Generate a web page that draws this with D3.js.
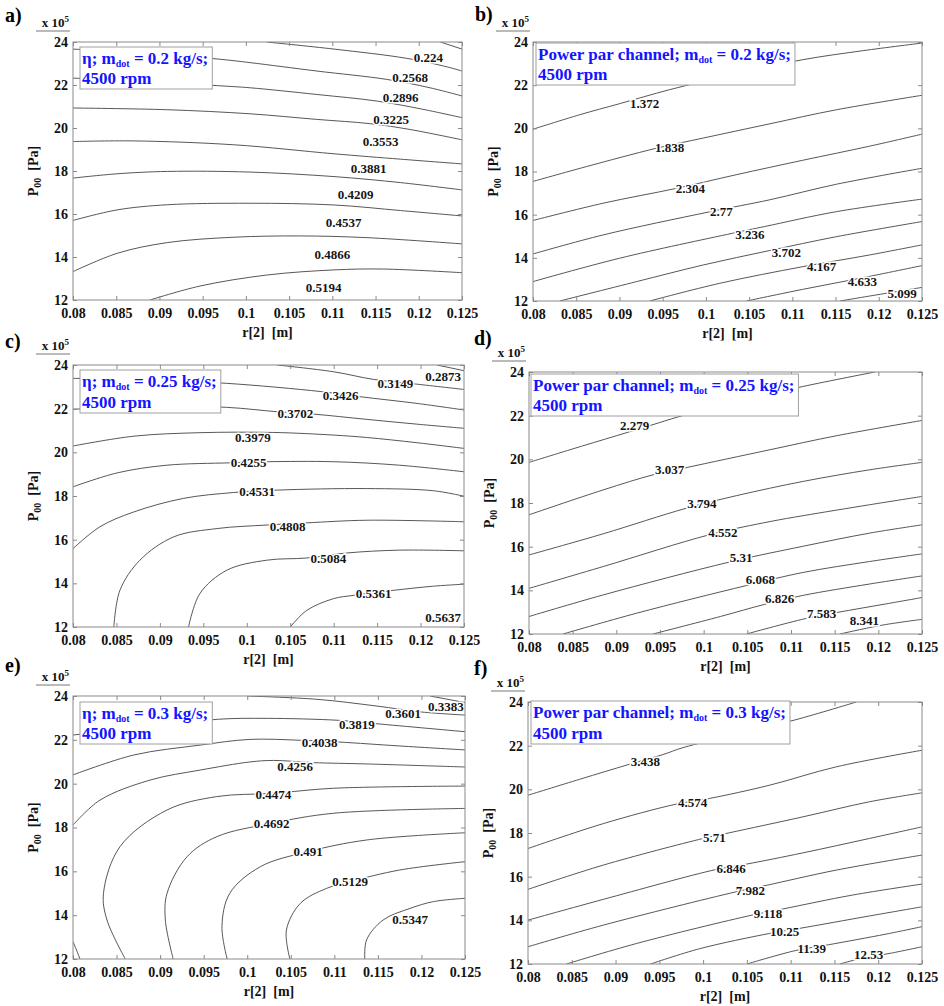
<!DOCTYPE html>
<html><head><meta charset="utf-8">
<script src="https://cdn.jsdelivr.net/npm/d3@7"></script>
<style>
body{margin:0;background:#fff}
svg text{font-family:'Liberation Serif','DejaVu Serif','Noto Serif',serif;}
</style>
</head><body>
<svg id="chart" width="944" height="1006"></svg>
<script>
// ---------- data ----------
const xTicks=[0.08,0.085,0.09,0.095,0.1,0.105,0.11,0.115,0.12,0.125];
const xTickLabels=['0.08','0.085','0.09','0.095','0.1','0.105','0.11','0.115','0.12','0.125'];
const yTicks=[12,14,16,18,20,22,24];
const yTickLabels=['12','14','16','18','20','22','24'];
const panelLetters=['a)','b)','c)','d)','e)','f)'];
const quantities=['η','Power par channel','η','Power par channel','η','Power par channel'];
const massFlows=['0.2','0.2','0.25','0.25','0.3','0.3'];
const speedText='4500 rpm';

// panel a: efficiency, mdot 0.2
const levelsA=['0.224','0.2568','0.2896','0.3225','0.3553','0.3881','0.4209','0.4537','0.4866','0.5194'];
const labelPosA=[[0.1211,23.27],[0.1190,22.37],[0.1179,21.44],[0.1168,20.40],[0.1156,19.37],[0.1142,18.10],[0.1127,16.89],[0.1113,15.60],[0.1100,14.13],[0.1090,12.59]];
const linesA=[
 [[0.1225,24],[0.125,23.67]],
 [[0.1024,24],[0.1102,23.67],[0.1186,23.24],[0.1233,22.84],[0.125,22.65]],
 [[0.08,23.67],[0.0882,23.49],[0.0967,23.21],[0.1005,23.04],[0.1082,22.65],[0.1163,22.26],[0.1213,21.87],[0.125,21.49]],
 [[0.08,22.32],[0.0882,22.17],[0.0967,21.97],[0.1005,21.87],[0.1082,21.56],[0.1152,21.25],[0.1206,20.86],[0.125,20.48]],
 [[0.08,20.93],[0.0909,20.85],[0.1005,20.66],[0.1082,20.40],[0.1144,20.20],[0.1190,19.93],[0.125,19.45]],
 [[0.08,19.37],[0.0870,19.40],[0.0986,19.22],[0.1102,18.80],[0.1179,18.55],[0.125,18.33]],
 [[0.08,17.67],[0.0851,17.87],[0.0909,17.98],[0.1005,17.95],[0.1102,17.74],[0.1179,17.46],[0.125,17.12]],
 [[0.08,15.70],[0.0851,16.19],[0.0909,16.43],[0.1005,16.50],[0.1102,16.42],[0.1179,16.16],[0.125,15.91]],
 [[0.08,13.32],[0.0851,14.17],[0.0909,14.67],[0.0986,14.92],[0.1063,14.98],[0.1140,14.90],[0.125,14.61]],
 [[0.0889,12.0],[0.0947,12.65],[0.1024,13.16],[0.1102,13.40],[0.1159,13.44],[0.125,13.27]]
];

// panel b: power, mdot 0.2
const levelsB=['1.372','1.838','2.304','2.77','3.236','3.702','4.167','4.633','5.099'];
const labelPosB=[[0.0929,21.14],[0.0958,19.11],[0.0982,17.21],[0.1018,16.13],[0.1051,15.09],[0.1093,14.26],[0.1134,13.59],[0.1181,12.90],[0.1227,12.36]];
const linesB=[
 [[0.08,19.96],[0.0854,20.63],[0.0900,21.14],[0.0958,21.79],[0.1035,22.53],[0.1112,23.18],[0.1182,23.60],[0.125,23.95]],
 [[0.08,17.54],[0.0862,18.23],[0.0943,19.08],[0.0997,19.55],[0.1074,20.21],[0.1151,20.86],[0.125,21.53]],
 [[0.08,15.73],[0.0881,16.53],[0.0966,17.22],[0.1035,17.85],[0.1112,18.52],[0.1189,19.17],[0.125,19.73]],
 [[0.08,14.18],[0.0881,15.06],[0.1004,16.13],[0.1074,16.69],[0.1151,17.41],[0.125,18.15]],
 [[0.08,12.90],[0.0900,13.98],[0.1031,15.14],[0.1068,15.45],[0.1151,16.14],[0.125,16.72]],
 [[0.0831,12.0],[0.0920,12.90],[0.0997,13.67],[0.1074,14.34],[0.1151,14.98],[0.125,15.68]],
 [[0.0935,12.0],[0.1016,12.82],[0.1112,13.59],[0.1189,14.13],[0.125,14.60]],
 [[0.1047,12.0],[0.1112,12.54],[0.1178,13.05],[0.125,13.64]],
 [[0.1155,12.0],[0.1209,12.36],[0.125,12.63]]
];

// panel c: efficiency, mdot 0.25
const levelsC=['0.2873','0.3149','0.3426','0.3702','0.3979','0.4255','0.4531','0.4808','0.5084','0.5361','0.5637'];
const labelPosC=[[0.1226,23.47],[0.1171,23.16],[0.1108,22.62],[0.1056,21.78],[0.1007,20.67],[0.1002,19.52],[0.1012,18.22],[0.1047,16.59],[0.1094,15.16],[0.1146,13.53],[0.1226,12.43]];
const linesC=[
 [[0.1219,24],[0.125,23.74]],
 [[0.1035,24],[0.1100,23.69],[0.1146,23.34],[0.1194,23.13],[0.125,22.88]],
 [[0.08,23.39],[0.0889,23.31],[0.0977,23.16],[0.1086,22.78],[0.1130,22.55],[0.1196,22.24],[0.125,21.94]],
 [[0.08,21.97],[0.0889,22.12],[0.0977,22.06],[0.1035,21.86],[0.1077,21.75],[0.1138,21.51],[0.1196,21.29],[0.125,21.10]],
 [[0.08,20.29],[0.0870,20.74],[0.0946,20.90],[0.1031,20.91],[0.1100,20.79],[0.1138,20.68],[0.1196,20.44],[0.125,20.18]],
 [[0.08,18.42],[0.0851,19.06],[0.0908,19.41],[0.0981,19.52],[0.1023,19.57],[0.1100,19.57],[0.1176,19.41],[0.125,19.11]],
 [[0.08,15.59],[0.0831,16.59],[0.0870,17.27],[0.0927,17.89],[0.0985,18.16],[0.1035,18.27],[0.1138,18.34],[0.1215,18.24],[0.125,17.99]],
 [[0.0847,12.0],[0.0854,13.68],[0.0877,15.06],[0.0916,16.13],[0.0966,16.51],[0.1023,16.67],[0.1069,16.77],[0.1138,16.89],[0.125,16.82]],
 [[0.0933,12.0],[0.0946,13.53],[0.0977,14.60],[0.1023,15.06],[0.1069,15.16],[0.1115,15.39],[0.1176,15.52],[0.125,15.49]],
 [[0.1050,12.0],[0.1069,12.76],[0.1100,13.30],[0.1123,13.45],[0.1169,13.68],[0.1215,13.87],[0.125,13.96]]
];

// panel d: power, mdot 0.25
const levelsD=['2.279','3.037','3.794','4.552','5.31','6.068','6.826','7.583','8.341'];
const labelPosD=[[0.0921,21.55],[0.0961,19.52],[0.0998,17.96],[0.1022,16.66],[0.1043,15.50],[0.1065,14.48],[0.1087,13.64],[0.1135,12.95],[0.1184,12.61]];
const linesD=[
 [[0.08,19.86],[0.0847,20.44],[0.0900,21.08],[0.0938,21.54],[0.0973,21.97],[0.1038,22.65],[0.1114,23.34],[0.1196,24.0]],
 [[0.08,17.46],[0.0885,18.60],[0.0942,19.29],[0.0980,19.62],[0.1076,20.44],[0.1152,21.08],[0.125,21.78]],
 [[0.08,15.62],[0.0885,16.59],[0.0980,17.76],[0.1038,18.34],[0.1114,18.99],[0.1190,19.52],[0.125,19.86]],
 [[0.08,14.09],[0.0885,15.09],[0.1007,16.55],[0.1076,17.15],[0.1114,17.42],[0.1190,17.92],[0.125,18.30]],
 [[0.08,12.80],[0.0885,13.79],[0.1030,15.30],[0.1114,16.02],[0.1190,16.62],[0.125,17.00]],
 [[0.0839,12.0],[0.0923,12.95],[0.1049,14.22],[0.1114,14.82],[0.1190,15.32],[0.125,15.67]],
 [[0.0942,12.0],[0.1019,12.80],[0.1070,13.36],[0.1114,13.77],[0.1190,14.29],[0.125,14.66]],
 [[0.1049,12.0],[0.1116,12.70],[0.1152,12.98],[0.1209,13.38],[0.125,13.67]],
 [[0.1156,12.0],[0.1205,12.41],[0.125,12.67]]
];

// panel e: efficiency, mdot 0.3
const levelsE=['0.3383','0.3601','0.3819','0.4038','0.4256','0.4474','0.4692','0.491','0.5129','0.5347'];
const labelPosE=[[0.1228,23.51],[0.1179,23.21],[0.1126,22.69],[0.1083,21.86],[0.1055,20.78],[0.1030,19.53],[0.1028,18.19],[0.1070,16.90],[0.1118,15.53],[0.1187,13.81]];
const linesE=[
 [[0.1210,24],[0.125,23.70]],
 [[0.1000,24],[0.1080,23.85],[0.1149,23.54],[0.1200,23.27],[0.125,23.13]],
 [[0.08,22.22],[0.0889,22.60],[0.0967,22.94],[0.1023,22.98],[0.1105,22.89],[0.1147,22.74],[0.125,22.37]],
 [[0.08,20.40],[0.0870,21.31],[0.0946,21.76],[0.1003,22.02],[0.1061,21.98],[0.1105,21.90],[0.1175,21.72],[0.125,21.54]],
 [[0.08,18.11],[0.0831,19.25],[0.0889,20.17],[0.0946,20.62],[0.1003,20.99],[0.1030,21.06],[0.1076,20.96],[0.1137,20.90],[0.125,20.76]],
 [[0.08,12.79],[0.0804,12.41],[0.0808,12.0]],
 [[0.0860,12.0],[0.0839,13.78],[0.0835,15.00],[0.0854,17.13],[0.0908,18.80],[0.0965,19.41],[0.1030,19.56],[0.1099,19.79],[0.125,19.89]],
 [[0.0915,12.0],[0.0906,13.78],[0.0908,15.00],[0.0931,16.67],[0.0965,17.58],[0.1028,18.19],[0.1099,18.65],[0.125,18.87]],
 [[0.0977,12.0],[0.0971,13.48],[0.0980,15.00],[0.1015,16.21],[0.1070,16.90],[0.1137,17.43],[0.125,17.76]],
 [[0.1049,12.0],[0.1045,13.32],[0.1061,14.54],[0.1091,15.22],[0.1118,15.53],[0.1175,16.06],[0.125,16.44]],
 [[0.1135,12.0],[0.1137,12.87],[0.1156,13.78],[0.1187,14.31],[0.1214,14.62],[0.125,14.77]]
];

// panel f: power, mdot 0.3
const levelsF=['3.438','4.574','5.71','6.846','7.982','9.118','10.25','11.39','12.53'];
const labelPosF=[[0.0934,21.26],[0.0988,19.38],[0.1013,17.79],[0.1032,16.38],[0.1054,15.38],[0.1074,14.32],[0.1093,13.48],[0.1124,12.72],[0.1189,12.46]];
const linesF=[
 [[0.08,19.73],[0.0859,20.46],[0.0916,21.15],[0.0954,21.59],[0.0977,21.91],[0.1038,22.52],[0.1106,23.19],[0.1175,24.0]],
 [[0.08,17.29],[0.0886,18.43],[0.0969,19.32],[0.1007,19.58],[0.1076,20.19],[0.1152,21.03],[0.125,21.79]],
 [[0.08,15.42],[0.0886,16.53],[0.1000,17.75],[0.1030,18.01],[0.1114,18.74],[0.1190,19.43],[0.125,19.84]],
 [[0.08,14.01],[0.0886,14.96],[0.1015,16.33],[0.1049,16.57],[0.1114,17.09],[0.1190,17.75],[0.125,18.28]],
 [[0.08,12.79],[0.0886,13.78],[0.1038,15.31],[0.1072,15.60],[0.1152,16.30],[0.125,16.99]],
 [[0.0844,12.0],[0.0924,12.94],[0.1057,14.25],[0.1091,14.52],[0.1171,15.16],[0.125,15.66]],
 [[0.0940,12.0],[0.0996,12.70],[0.1076,13.40],[0.1110,13.63],[0.1190,14.20],[0.125,14.62]],
 [[0.1050,12.0],[0.1106,12.62],[0.1143,12.88],[0.1209,13.37],[0.125,13.71]],
 [[0.1156,12.0],[0.1180,12.25],[0.1215,12.50],[0.125,12.79]]
];

// ---------- layout (pixels) ----------
const layout=[
 {frame:[73,42,462,300],  letter:[5,22],   text:[82,64,84]},
 {frame:[533,42,922,301], letter:[475,21], text:[538,60,80]},
 {frame:[73,365,464,627], letter:[5,348],  text:[82,387,408]},
 {frame:[529,372,922,634],letter:[474,345],text:[533,391,411]},
 {frame:[73,696,465,959], letter:[5,672],  text:[82,719,739]},
 {frame:[528,702,922,964],letter:[474,675],text:[533,718,739]}
];
const contourSets=[
 {lines:linesA,levels:levelsA,pos:labelPosA},
 {lines:linesB,levels:levelsB,pos:labelPosB},
 {lines:linesC,levels:levelsC,pos:labelPosC},
 {lines:linesD,levels:levelsD,pos:labelPosD},
 {lines:linesE,levels:levelsE,pos:labelPosE},
 {lines:linesF,levels:levelsF,pos:labelPosF}
];

const SERIF="'Liberation Serif','DejaVu Serif','Noto Serif',serif";
const svg=d3.select('#chart');
const serifBold=sel=>sel.style('font-family',SERIF).style('font-weight','bold');

layout.forEach((L,i)=>{
  const [x0,y0,x1,y1]=L.frame;
  const set=contourSets[i];
  const x=d3.scaleLinear().domain([0.08,0.125]).range([x0,x1]);
  const y=d3.scaleLinear().domain([12,24]).range([y1,y0]);
  const g=svg.append('g');

  const cid='clip'+i;
  svg.append('clipPath').attr('id',cid).append('rect')
     .attr('x',x0).attr('y',y0).attr('width',x1-x0).attr('height',y1-y0);

  // contour lines
  const line=d3.line().x(d=>x(d[0])).y(d=>y(d[1])).curve(d3.curveCatmullRom.alpha(0.5));
  g.append('g').attr('clip-path',`url(#${cid})`)
    .selectAll('path').data(set.lines).join('path')
    .attr('d',line).attr('fill','none').attr('stroke','#444').attr('stroke-width',0.9);

  // contour labels
  g.append('g').selectAll('text').data(set.levels).join('text')
    .attr('x',(d,j)=>x(set.pos[j][0])).attr('y',(d,j)=>y(set.pos[j][1]))
    .attr('dy','0.35em').attr('text-anchor','middle')
    .call(serifBold).style('font-size','13px')
    .attr('fill','#151515').attr('stroke','#fff').attr('stroke-width',3)
    .attr('paint-order','stroke').text(d=>d);

  // axes with inward ticks
  const styleAxis=sel=>{
    sel.select('.domain').remove();
    sel.selectAll('line').attr('stroke','#8a8a8a');
    sel.selectAll('text').call(serifBold).style('font-size','14px').attr('fill','#111');
  };
  g.append('g').attr('transform',`translate(0,${y1})`)
   .call(d3.axisBottom(x).tickValues(xTicks).tickFormat((d,j)=>xTickLabels[j]).tickSize(-4).tickPadding(8))
   .call(styleAxis);
  g.append('g').attr('transform',`translate(0,${y0})`)
   .call(d3.axisTop(x).tickValues(xTicks).tickFormat('').tickSize(-4))
   .call(styleAxis);
  g.append('g').attr('transform',`translate(${x0},0)`)
   .call(d3.axisLeft(y).tickValues(yTicks).tickFormat((d,j)=>yTickLabels[j]).tickSize(-4).tickPadding(5))
   .call(styleAxis);
  g.append('g').attr('transform',`translate(${x1},0)`)
   .call(d3.axisRight(y).tickValues(yTicks).tickFormat('').tickSize(-4))
   .call(styleAxis);

  // frame
  g.append('rect').attr('x',x0).attr('y',y0).attr('width',x1-x0).attr('height',y1-y0)
   .attr('fill','none').attr('stroke','#8a8a8a').attr('stroke-width',1);

  // x 10^5 multiplier
  const m=g.append('text').attr('x',x0-4).attr('y',y0-15).attr('text-anchor','end')
    .call(serifBold).style('font-size','13px').attr('fill','#111');
  m.append('tspan').text('x 10');
  m.append('tspan').attr('dy',-5).style('font-size','9px').text('5');
  g.append('line').attr('x1',x0-37).attr('x2',x0-3).attr('y1',y0-11).attr('y2',y0-11)
   .attr('stroke','#777').attr('stroke-width',1);

  // axis titles
  g.append('text').attr('x',(x0+x1)/2).attr('y',y1+37).attr('text-anchor','middle')
   .call(serifBold).style('font-size','14px').attr('fill','#111')
   .text('r[2]\u00a0\u00a0[m]');
  const yl=g.append('text').attr('transform',`translate(${x0-35},${(y0+y1)/2}) rotate(-90)`)
   .attr('text-anchor','middle').call(serifBold).style('font-size','14px').attr('fill','#111');
  yl.append('tspan').text('P');
  yl.append('tspan').attr('dy',3).style('font-size','10px').text('00');
  yl.append('tspan').attr('dy',-3).text('\u00a0\u00a0[Pa]');

  // panel letter
  g.append('text').attr('x',L.letter[0]).attr('y',L.letter[1])
   .call(serifBold).style('font-size','20px').attr('fill','#000')
   .text(panelLetters[i]);

  // annotation box
  const [tx,b1,b2]=L.text;
  const tb=g.append('g');
  const t=tb.append('text').call(serifBold).style('font-size','17px').attr('fill','#1414ff');
  const l1=t.append('tspan').attr('x',tx).attr('y',b1);
  l1.append('tspan').text(quantities[i]+'; m');
  l1.append('tspan').attr('dy',3).style('font-size','10px').text('dot');
  l1.append('tspan').attr('dy',-3).text(' = '+massFlows[i]+' kg/s;');
  t.append('tspan').attr('x',tx).attr('y',b2).text(speedText);
  const bb=t.node().getBBox();
  tb.insert('rect','text').attr('x',tx-2).attr('y',b1-17)
    .attr('width',bb.width+6).attr('height',(b2-b1)+22)
    .attr('fill','#fff').attr('stroke','#a0a0a0').attr('stroke-width',1);
});
</script>
</body></html>
